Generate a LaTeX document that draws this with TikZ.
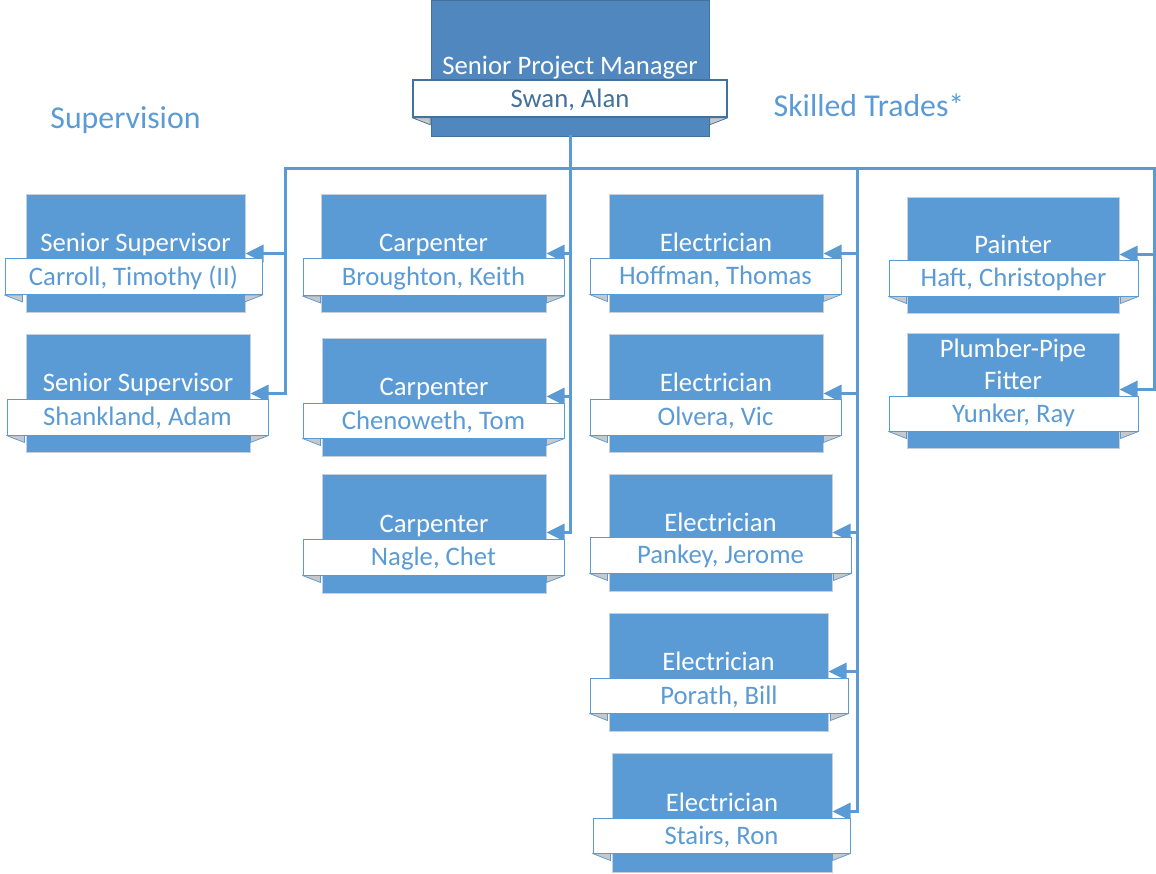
\documentclass[tikz,border=0pt]{standalone}
\usepackage{fontspec}
\setmainfont{Carlito}
\usetikzlibrary{arrows.meta}
\definecolor{unitblue}{HTML}{5B9BD5}
\definecolor{headblue}{HTML}{4F87BE}
\definecolor{darkblue}{HTML}{41719C}
\definecolor{foldgray}{HTML}{C8C8C8}
\definecolor{edgegray}{HTML}{C5D0DB}

\begin{document}
\begin{tikzpicture}
	[x=1pt, y=-1pt,
	unit/.style={draw=edgegray, line width=1pt, fill=unitblue, text=white,
		minimum height=118pt, inner sep=0pt, text height=18pt, text depth=21pt,
		font=\fontsize{26.7}{32}\selectfont},
	namebar/.style={draw=unitblue, line width=1pt, fill=white, text=unitblue,
		minimum height=36pt, inner sep=0pt, text height=21pt, text depth=4pt,
		font=\fontsize{26.7}{32}\selectfont},
	link/.style={unitblue, line width=3pt, line cap=rect},
	tip/.style={link, -{Triangle[length=18pt, width=17pt]}},
	group/.style={text=unitblue, anchor=base, font=\fontsize{31.8}{36}\selectfont}
	]
	\useasboundingbox (0,0) rectangle (1156,873);

	% group headings
	\node[group] (supervision) at (125.5,128) {Supervision};
	\node[group] (trades) at (869,116) {Skilled Trades*};

	% boxes
	\node[unit, fill=headblue, draw=darkblue, minimum width=278pt, minimum height=136pt,
		text depth=5pt] (mgr) at (570,68) {Senior Project Manager};
	\node[unit, minimum width=219pt] (sup1) at (135.5,253) {Senior Supervisor};
	\node[unit, minimum width=224pt] (sup2) at (138,393) {Senior Supervisor};
	\node[unit, minimum width=225pt] (car1) at (433.5,253) {Carpenter};
	\node[unit, minimum width=224pt] (car2) at (434,397) {Carpenter};
	\node[unit, minimum width=224pt, minimum height=119pt] (car3) at (434,533.5) {Carpenter};
	\node[unit, minimum width=214pt] (ele1) at (716,253) {Electrician};
	\node[unit, minimum width=214pt] (ele2) at (716,393) {Electrician};
	\node[unit, minimum width=223pt, minimum height=117pt] (ele3) at (720.5,532.5) {Electrician};
	\node[unit, minimum width=219pt] (ele4) at (718.5,672) {Electrician};
	\node[unit, minimum width=220pt, minimum height=119pt] (ele5) at (722,812.5) {Electrician};
	\node[unit, minimum width=212pt, minimum height=116pt] (pnt) at (1013,255) {Painter};
	\node[unit, minimum width=212pt, minimum height=115pt] (plm) at (1013,390.5)
		{\begin{tabular}[b]{@{}c@{}}Plumber-Pipe\\Fitter\end{tabular}};

	% connectors
	\coordinate (hub) at (570,168);
	\coordinate (supbus) at (285,168);
	\coordinate (elebus) at (857,168);
	\coordinate (tradebus) at (1154,168);
	\draw[link] (mgr.south) -- (hub);
	\draw[link] (supbus) -- (tradebus);
	\draw[tip] (supbus) |- ([yshift=-60pt]sup1.north east);
	\draw[tip] (supbus) |- ([yshift=-60pt]sup2.north east);
	\draw[tip] (hub) |- ([yshift=-60pt]car1.north east);
	\draw[tip] (hub) |- ([yshift=-59pt]car2.north east);
	\draw[tip] (hub) |- ([yshift=-59pt]car3.north east);
	\draw[tip] (elebus) |- ([yshift=-60pt]ele1.north east);
	\draw[tip] (elebus) |- ([yshift=-60pt]ele2.north east);
	\draw[tip] (elebus) |- ([yshift=-59pt]ele3.north east);
	\draw[tip] (elebus) |- ([yshift=-59pt]ele4.north east);
	\draw[tip] (elebus) |- ([yshift=-59pt]ele5.north east);
	\draw[tip] (tradebus) |- ([yshift=-58pt]pnt.north east);
	\draw[tip] (tradebus) |- ([yshift=-57pt]plm.north east);

	% name bars
	\node[namebar, draw=darkblue, text=darkblue, line width=1.5pt, minimum width=314pt,
		minimum height=37pt] (mgrn) at (570,98.5) {Swan, Alan};
	\node[namebar, minimum width=257pt] (sup1n) at (133.5,276.5) {Carroll, Timothy (II)};
	\node[namebar, minimum width=261pt] (sup2n) at (137.5,417) {Shankland, Adam};
	\node[namebar, minimum width=261pt, minimum height=37pt] (car1n) at (433.5,277) {Broughton, Keith};
	\node[namebar, minimum width=261pt, minimum height=35pt] (car2n) at (433.5,420.5) {Chenoweth, Tom};
	\node[namebar, minimum width=261pt] (car3n) at (433.5,557) {Nagle, Chet};
	\node[namebar, minimum width=251pt] (ele1n) at (715.5,276) {Hoffman, Thomas};
	\node[namebar, minimum width=251pt] (ele2n) at (715.5,417) {Olvera, Vic};
	\node[namebar, minimum width=261pt] (ele3n) at (720.5,555) {Pankey, Jerome};
	\node[namebar, minimum width=258pt, minimum height=35pt] (ele4n) at (719,695.5) {Porath, Bill};
	\node[namebar, minimum width=257pt, minimum height=35pt] (ele5n) at (721.5,835.5) {Stairs, Ron};
	\node[namebar, minimum width=249pt] (pntn) at (1013.5,278) {Haft, Christopher};
	\node[namebar, minimum width=249pt, minimum height=35pt] (plmn) at (1013.5,413.5) {Yunker, Ray};

	% folded ends of the name bars
	\foreach \n/\c in {mgrn/darkblue, sup1n/unitblue, sup2n/unitblue, car1n/unitblue,
		car2n/unitblue, car3n/unitblue, ele1n/unitblue, ele2n/unitblue, ele3n/unitblue,
		ele4n/unitblue, ele5n/unitblue, pntn/unitblue, plmn/unitblue} {
		\filldraw[fill=foldgray, draw=\c, line width=0.75pt, line join=round]
			(\n.south west) -- ++(18,0) -- ++(0,7) -- cycle;
		\filldraw[fill=foldgray, draw=\c, line width=0.75pt, line join=round]
			(\n.south east) -- ++(-18,0) -- ++(0,7) -- cycle;
	}
\end{tikzpicture}
\end{document}
